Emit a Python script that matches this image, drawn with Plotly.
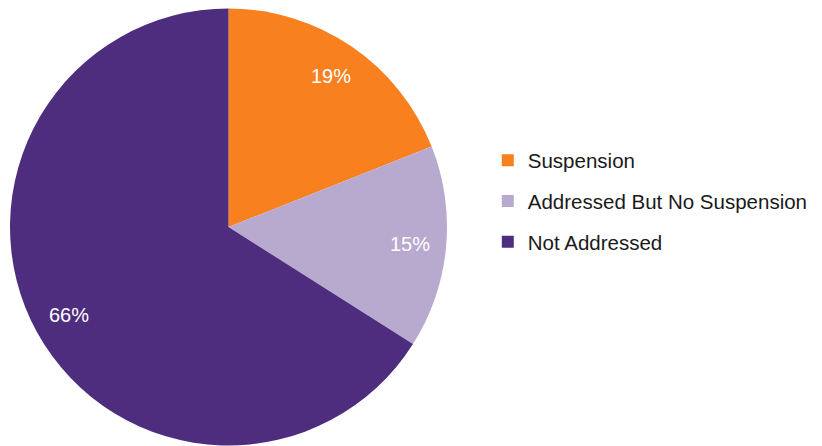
import math
import plotly.graph_objects as go

labels = ["Suspension", "Addressed But No Suspension", "Not Addressed"]
values = [19, 15, 66]
colors = ["#F9801F", "#B8A9CE", "#4E2D7E"]

OFF = 8  # page body margin
W, H = 822 - OFF, 446 - OFF
cx_px, cy_px, r_px = 228.5 - OFF, 227.0 - OFF, 218.5

fig = go.Figure()
fig.add_trace(go.Pie(
    labels=labels, values=values, sort=False, direction="clockwise", rotation=0,
    marker=dict(colors=colors, line=dict(width=0)),
    textinfo="none", hoverinfo="label+percent", showlegend=False,
    domain=dict(x=[(cx_px - r_px) / W, (cx_px + r_px) / W],
                y=[max(0, (H - cy_px - r_px) / H), min(1, (H - cy_px + r_px) / H)]),
))

# legend entries (native legend, one group per category for spacing)
for lab, col in zip(labels, colors):
    fig.add_trace(go.Scatter(x=[None], y=[None], mode="markers", name=lab,
                             legendgroup=lab,
                             marker=dict(symbol="square", size=12, color=col)))

# percentage labels placed at slice mid-angles
total = sum(values)
cum = 0
annotations = []
for v in values:
    mid = (cum + v / 2) / total * 2 * math.pi
    cum += v
    rr = 0.835 * r_px
    px = cx_px + rr * math.sin(mid)
    py = cy_px - rr * math.cos(mid)
    annotations.append(dict(x=px / W, y=1 - py / H, xref="paper", yref="paper",
                            xanchor="center", yanchor="middle",
                            text=f"{round(v / total * 100)}%", showarrow=False,
                            font=dict(color="white", size=20,
                                      family="Liberation Sans, Arial, sans-serif")))

fig.update_layout(
    width=W, height=H, margin=dict(l=0, r=0, t=0, b=0),
    paper_bgcolor="white", plot_bgcolor="white",
    xaxis=dict(visible=False), yaxis=dict(visible=False),
    annotations=annotations,
    legend=dict(x=(485.8 - OFF + 2) / W, y=(H - (201 - OFF)) / H,
                xanchor="left", yanchor="middle",
                font=dict(size=20.5, color="#1a1a1a",
                          family="Liberation Sans, Arial, sans-serif"),
                tracegroupgap=11, traceorder="grouped", itemwidth=30),
    showlegend=True,
)

fig.write_html("out.html")
